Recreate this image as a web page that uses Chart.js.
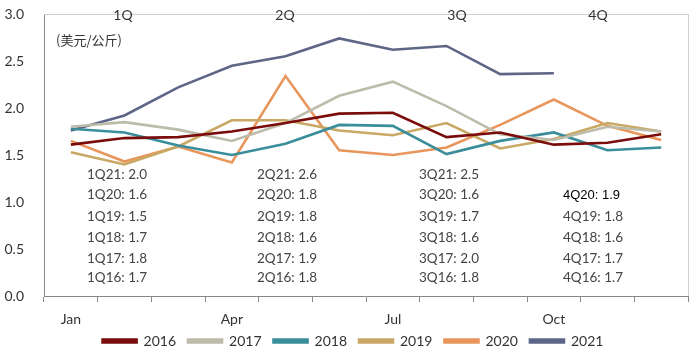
<!DOCTYPE html>
<html>
<head>
<meta charset="utf-8">
<script src="https://cdn.jsdelivr.net/npm/chart.js@4/dist/chart.umd.min.js"></script>
<style>
  html, body { margin: 0; padding: 0; background: #fff; }
</style>
</head>
<body>
<canvas id="priceChart" width="699" height="359"></canvas>
<script>
// 月份
const months = ['Jan', 'Feb', 'Mar', 'Apr', 'May', 'Jun', 'Jul', 'Aug', 'Sep', 'Oct', 'Nov', 'Dec'];
const years = ['2016', '2017', '2018', '2019', '2020', '2021'];

// 每年价格 (美元/公斤)
const p2016 = [1.61, 1.68, 1.69, 1.75, 1.84, 1.94, 1.95, 1.69, 1.74, 1.61, 1.63, 1.72];
const p2017 = [1.80, 1.85, 1.77, 1.65, 1.84, 2.13, 2.28, 2.02, 1.72, 1.66, 1.80, 1.75];
const p2018 = [1.78, 1.74, 1.60, 1.50, 1.62, 1.82, 1.81, 1.51, 1.65, 1.74, 1.55, 1.58];
const p2019 = [1.53, 1.40, 1.59, 1.87, 1.87, 1.76, 1.71, 1.84, 1.57, 1.67, 1.84, 1.75];
const p2020 = [1.65, 1.43, 1.59, 1.42, 2.34, 1.55, 1.50, 1.58, 1.82, 2.09, 1.81, 1.66];
const p2021 = [1.76, 1.92, 2.22, 2.45, 2.55, 2.74, 2.62, 2.66, 2.36, 2.37, null, null];

const yTicks = [0, 0.5, 1.0, 1.5, 2.0, 2.5, 3.0];
const quarterNames = ['1Q', '2Q', '3Q', '4Q'];

// 季度均价标注
const q1Notes = ['1Q21: 2.0', '1Q20: 1.6', '1Q19: 1.5', '1Q18: 1.7', '1Q17: 1.8', '1Q16: 1.7'];
const q2Notes = ['2Q21: 2.6', '2Q20: 1.8', '2Q19: 1.8', '2Q18: 1.6', '2Q17: 1.9', '2Q16: 1.8'];
const q3Notes = ['3Q21: 2.5', '3Q20: 1.6', '3Q19: 1.7', '3Q18: 1.6', '3Q17: 2.0', '3Q16: 1.8'];
const q4Notes = ['', '4Q20: 1.9', '4Q19: 1.8', '4Q18: 1.6', '4Q17: 1.7', '4Q16: 1.7'];

const colors = ['#7a0c0c', '#bdbcab', '#3a8e9c', '#c8a864', '#e8965c', '#5d6686'];
const series = [p2016, p2017, p2018, p2019, p2020, p2021];

const FONT = 'Lato, "Noto Sans", sans-serif';

// 边框 + 文字
const notesPlugin = {
  id: 'notes',
  afterLayout(chart) {
    // 图例位置微调
    chart.legend.left += 9;
    chart.legend.right += 9;
    chart.legend.top -= 9;
    chart.legend.bottom -= 9;
  },
  afterDraw(chart) {
    const ctx = chart.ctx;
    const a = chart.chartArea;
    ctx.save();
    // 顶部/右侧框线
    ctx.strokeStyle = '#cfcfcf';
    ctx.lineWidth = 1;
    ctx.beginPath();
    ctx.moveTo(a.left, a.top + 0.5);
    ctx.lineTo(a.right + 0.5, a.top + 0.5);
    ctx.lineTo(a.right + 0.5, a.bottom);
    ctx.stroke();

    // 季度标签
    ctx.font = '14px ' + FONT;
    ctx.fillStyle = '#333';
    ctx.textAlign = 'center';
    ctx.textBaseline = 'middle';
    const qx = [79, 241, 413, 554];
    quarterNames.forEach((q, i) => ctx.fillText(q, a.left + qx[i], a.top + 1));

    // 单位
    ctx.textAlign = 'left';
    ctx.font = '13px "Noto Sans CJK SC", sans-serif';
    ctx.fillText('(美元/公斤)', a.left + 12, a.top + 26);

    // 季度均价
    const colX = [43, 213, 375, 519];
    const rowY = [161, 181, 203, 224, 245, 264];
    [q1Notes, q2Notes, q3Notes, q4Notes].forEach((col, c) => {
      col.forEach((t, r) => {
        if (!t) return;
        if (c === 3 && r === 1) {
          ctx.fillStyle = '#000';
          ctx.font = '13px "Liberation Sans", Arial, sans-serif';
        } else {
          ctx.fillStyle = '#444';
          ctx.font = '13.5px ' + FONT;
        }
        ctx.fillText(t, a.left + colX[c], a.top + rowY[r]);
      });
    });
    ctx.restore();
  }
};

const ctx = document.getElementById('priceChart');
const chart = new Chart(ctx, {
  type: 'line',
  data: {
    labels: months,
    datasets: years.map((y, i) => ({
      label: y,
      data: series[i],
      borderColor: colors[i],
      backgroundColor: colors[i],
      borderWidth: 2.6,
      pointRadius: 0,
      fill: false,
      tension: 0
    }))
  },
  options: {
    responsive: false,
    animation: false,
    devicePixelRatio: 1,
    layout: { padding: { top: 14, right: 11, left: 0, bottom: -8 } },
    plugins: {
      legend: {
        position: 'bottom',
        labels: {
          boxWidth: 34,
          boxHeight: 3,
          padding: 12,
          color: '#333',
          font: { family: FONT, size: 14 }
        }
      },
      tooltip: { enabled: false }
    },
    scales: {
      x: {
        offset: true,
        grid: { offset: true, drawOnChartArea: false, drawTicks: true, tickLength: 6, color: '#888' },
        border: { color: '#888' },
        ticks: {
          autoSkip: false,
          maxRotation: 0,
          color: '#333',
          padding: 9,
          font: { family: FONT, size: 14 },
          callback: function (v, i) { return i % 3 === 0 ? months[i] : ''; }
        },
        afterFit(scale) { scale.height = 35; }
      },
      y: {
        min: 0,
        max: 3,
        afterBuildTicks(scale) { scale.ticks = yTicks.map(v => ({ value: v })); },
        grid: { display: false },
        border: { color: '#888' },
        ticks: {
          color: '#333',
          padding: 12,
          font: { family: FONT, size: 14 },
          callback: v => v.toFixed(1)
        },
        afterFit(scale) {
          scale.width = 44;
          scale.paddingTop = 0;
          scale.paddingBottom = 0;
        }
      }
    }
  },
  plugins: [notesPlugin]
});
</script>
</body>
</html>
